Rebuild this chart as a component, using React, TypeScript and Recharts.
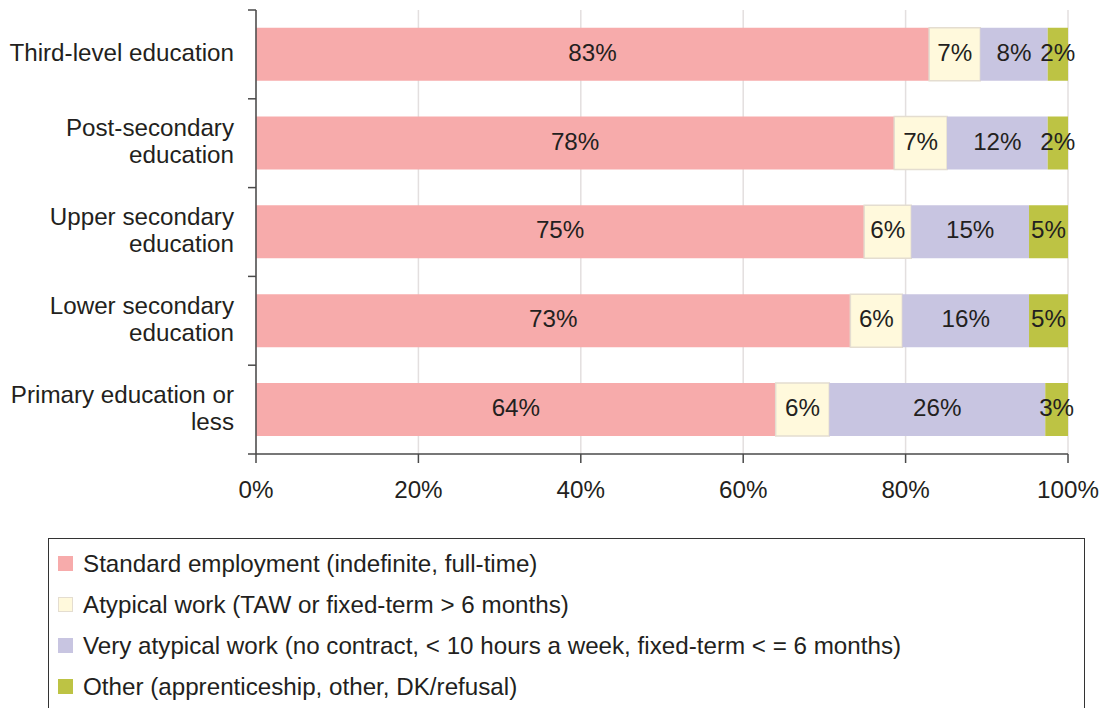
import { BarChart, Bar, XAxis, YAxis, CartesianGrid, LabelList } from "recharts";

const categories = [
  "Third-level education",
  "Post-secondary\neducation",
  "Upper secondary\neducation",
  "Lower secondary\neducation",
  "Primary education or\nless",
];

// bar lengths as measured (shares of 100%)
const standard = [82.9, 78.6, 74.9, 73.2, 64.0];
const atypical = [6.3, 6.5, 5.8, 6.4, 6.6];
const veryAtypical = [8.3, 12.4, 14.5, 15.6, 26.6];
const other = [2.5, 2.5, 4.8, 4.8, 2.8];

// rounded figures as printed on the bars
const standardPct = [83, 78, 75, 73, 64];
const atypicalPct = [7, 7, 6, 6, 6];
const veryAtypicalPct = [8, 12, 15, 16, 26];
const otherPct = [2, 2, 5, 5, 3];

const xTicks = [0, 20, 40, 60, 80, 100];

const series = [
  { key: "standard", name: "Standard employment (indefinite, full-time)", color: "#f7abab", stroke: "none", pct: standardPct },
  { key: "atypical", name: "Atypical work (TAW or fixed-term > 6 months)", color: "#fff9dc", stroke: "#e4ddd0", pct: atypicalPct },
  { key: "veryAtypical", name: "Very atypical work (no contract, < 10 hours a week, fixed-term < = 6 months)", color: "#c8c5e1", stroke: "none", pct: veryAtypicalPct },
  { key: "other", name: "Other (apprenticeship, other, DK/refusal)", color: "#bdc344", stroke: "none", pct: otherPct },
];

const data = categories.map((name, i) => ({
  name,
  standard: standard[i],
  atypical: atypical[i],
  veryAtypical: veryAtypical[i],
  other: other[i],
}));

const FONT = '"Liberation Sans", Arial, sans-serif';
const TEXT = "#231f20";
const AXIS = "#4a4a4a";

function CategoryTick(props: any) {
  const { x, y, payload, index, height, visibleTicksCount } = props;
  const band = height / visibleTicksCount;
  const lines = String(payload.value).split("\n");
  const lineH = 27;
  const start = y - 2 - ((lines.length - 1) * lineH) / 2;
  const axisX = x + 22;
  return (
    <g>
      <line x1={axisX - 8} x2={axisX} y1={y - band / 2} y2={y - band / 2} stroke={AXIS} strokeWidth={1.5} />
      {index === visibleTicksCount - 1 && (
        <line x1={axisX - 8} x2={axisX} y1={y + band / 2} y2={y + band / 2} stroke={AXIS} strokeWidth={1.5} />
      )}
      <text x={x} y={start} textAnchor="end" fill={TEXT} fontSize={24.2} fontFamily={FONT}>
        {lines.map((l, i) => (
          <tspan key={i} x={x} y={start + i * lineH} dominantBaseline="central">
            {l}
          </tspan>
        ))}
      </text>
    </g>
  );
}

function makeLabel(pct: number[]) {
  return (props: any) => {
    const { x, y, width, height, index } = props;
    return (
      <text
        x={x + width / 2}
        y={y + height / 2 - 2}
        textAnchor="middle"
        dominantBaseline="central"
        fill={TEXT}
        fontSize={24.2}
        fontFamily={FONT}
      >
        {pct[index]}%
      </text>
    );
  };
}

export default function App() {
  return (
    <div
      style={{
        position: "absolute",
        left: 0,
        top: 0,
        width: 1101,
        height: 708,
        background: "#fff",
        overflow: "hidden",
        fontFamily: FONT,
      }}
    >
      <BarChart
        width={1101}
        height={520}
        layout="vertical"
        data={data}
        margin={{ top: 10, right: 33, bottom: 0, left: 0 }}
        barCategoryGap="20%"
      >
        <CartesianGrid horizontal={false} stroke="#e3dfdf" strokeWidth={1.5} />
        <XAxis
          type="number"
          domain={[0, 100]}
          ticks={xTicks}
          tickFormatter={(v) => `${v}%`}
          height={66}
          tickSize={9}
          tickMargin={18}
          axisLine={{ stroke: AXIS, strokeWidth: 1.5 }}
          tickLine={{ stroke: AXIS, strokeWidth: 1.5 }}
          tick={{ fill: TEXT, fontSize: 24.2, fontFamily: FONT }}
        />
        <YAxis
          type="category"
          dataKey="name"
          width={256}
          tickSize={8}
          tickMargin={14}
          tickLine={false}
          axisLine={{ stroke: AXIS, strokeWidth: 1.5 }}
          tick={<CategoryTick />}
          interval={0}
        />
        {series.map((s) => (
          <Bar
            key={s.key}
            dataKey={s.key}
            stackId="a"
            fill={s.color}
            stroke={s.stroke}
            strokeWidth={s.stroke === "none" ? 0 : 1.5}
            isAnimationActive={false}
          >
            <LabelList dataKey={s.key} content={makeLabel(s.pct)} />
          </Bar>
        ))}
      </BarChart>
      <div
        style={{
          position: "absolute",
          left: 48,
          top: 538,
          width: 1037,
          height: 200,
          border: "1.5px solid #333",
          paddingTop: 4,
          boxSizing: "border-box",
        }}
      >
        {series.map((s) => (
          <div key={s.key} style={{ display: "flex", alignItems: "center", height: 41, paddingLeft: 9 }}>
            <span
              style={{
                display: "inline-block",
                width: 15,
                height: 15,
                background: s.color,
                border: s.stroke === "none" ? "none" : `1px solid ${s.stroke}`,
                boxSizing: "border-box",
                marginRight: 10,
              }}
            />
            <span style={{ fontSize: 24.2, color: TEXT }}>{s.name}</span>
          </div>
        ))}
      </div>
    </div>
  );
}
